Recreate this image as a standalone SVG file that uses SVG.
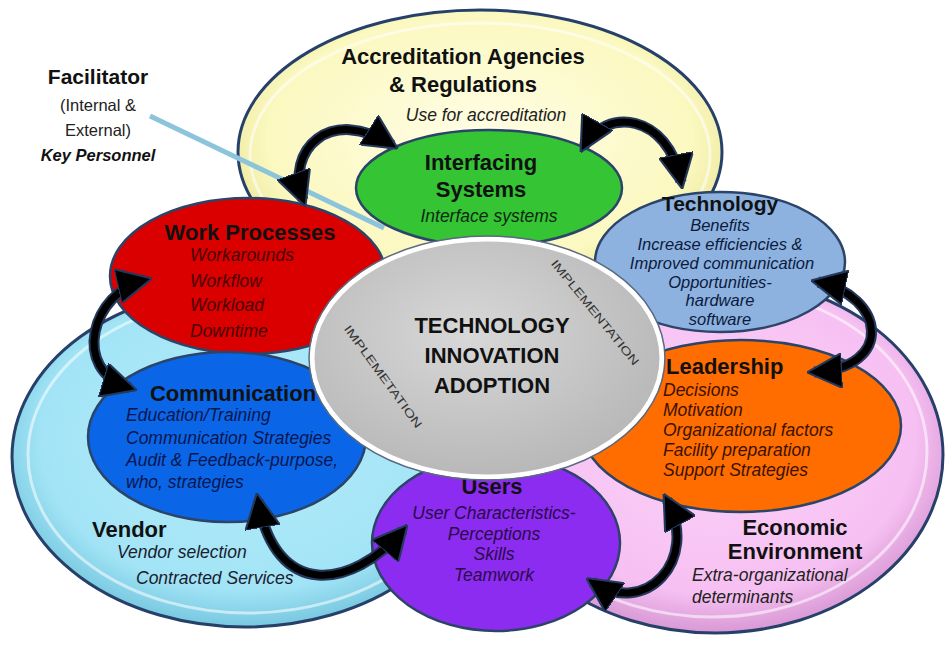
<svg xmlns="http://www.w3.org/2000/svg" width="948" height="645" viewBox="0 0 948 645">
<defs>
<radialGradient id="gY" cx="50%" cy="45%" r="55%"><stop offset="0" stop-color="#fffee6"/><stop offset="0.8" stop-color="#fbf8c0"/><stop offset="1" stop-color="#ece79a"/></radialGradient>
<radialGradient id="gB" cx="50%" cy="45%" r="55%"><stop offset="0" stop-color="#b4ecfa"/><stop offset="0.8" stop-color="#a2e4f6"/><stop offset="1" stop-color="#78c8e0"/></radialGradient>
<radialGradient id="gP" cx="50%" cy="45%" r="55%"><stop offset="0" stop-color="#fcd2f8"/><stop offset="0.8" stop-color="#f6c0f2"/><stop offset="1" stop-color="#d898d4"/></radialGradient>
<radialGradient id="gG" cx="45%" cy="40%" r="60%"><stop offset="0" stop-color="#d8d8d8"/><stop offset="1" stop-color="#b8b8b8"/></radialGradient>
<marker id="ah" viewBox="0 0 10 10" refX="8" refY="5" markerWidth="5" markerHeight="5" orient="auto-start-reverse" markerUnits="strokeWidth">
<path d="M0 0 L10 5 L0 10 z" fill="#000" stroke="#24385c" stroke-width="0.6"/>
</marker>
<style>
.outer{stroke:#26406a;stroke-width:3}
.ring{fill:none;stroke:#ffffff;stroke-opacity:0.55;stroke-width:3}
.node{stroke:#2c4468;stroke-width:2.5}
.t{font-family:"Liberation Sans",Arial,sans-serif;font-weight:bold;font-size:22px;fill:#111}
.i{font-family:"Liberation Sans",Arial,sans-serif;font-style:italic;font-size:17.5px}
.ts{font-size:16.5px}
.impl{font-family:"Liberation Sans",Arial,sans-serif;font-size:11.5px;fill:#333}
.c{text-anchor:middle}
.arrOut{fill:none;stroke:#24385c;stroke-width:11;stroke-linecap:butt}
.arr{fill:none;stroke:#000;stroke-width:7}
</style>
</defs>

<g id="accreditation">
<ellipse cx="480" cy="152" rx="242" ry="142" fill="url(#gY)" class="outer"/>
<ellipse cx="480" cy="155" rx="230" ry="132" class="ring"/>
<text class="t c" x="463" y="64">Accreditation Agencies</text>
<text class="t c" x="463" y="92">&amp; Regulations</text>
<text class="i c" x="486" y="121" fill="#222">Use for accreditation</text>
</g>

<g id="vendor">
<ellipse cx="245" cy="457" rx="233" ry="170" fill="url(#gB)" class="outer"/>
<ellipse cx="248" cy="455" rx="220" ry="158" class="ring"/>
<text class="t" x="92" y="537">Vendor</text>
<text class="i" x="117" y="558" fill="#1a2030">Vendor selection</text>
<text class="i" x="136" y="584" fill="#1a2030">Contracted Services</text>
</g>

<g id="economic">
<ellipse cx="715" cy="455" rx="228" ry="178" fill="url(#gP)" class="outer"/>
<ellipse cx="712" cy="452" rx="215" ry="165" class="ring"/>
<text class="t c" x="795" y="535">Economic</text>
<text class="t c" x="795" y="559">Environment</text>
<text class="i" x="692" y="581" fill="#222">Extra-organizational</text>
<text class="i" x="692" y="603" fill="#222">determinants</text>
</g>

<g id="facilitator">
<text class="t c" x="98" y="84" style="font-size:21px">Facilitator</text>
<text class="c" x="98" y="111" style="font-family:'Liberation Sans',Arial,sans-serif;font-size:16.5px" fill="#222">(Internal &amp;</text>
<text class="c" x="98" y="136" style="font-family:'Liberation Sans',Arial,sans-serif;font-size:16.5px" fill="#222">External)</text>
<text class="t c" x="98" y="161" style="font-size:16.5px;font-style:italic">Key Personnel</text>
<line x1="150" y1="116" x2="384" y2="228" stroke="#8cc4dc" stroke-width="5"/>
</g>

<g id="interfacing">
<ellipse cx="489" cy="188" rx="133" ry="58" fill="#34c434" class="node"/>
<text class="t c" x="481" y="170">Interfacing</text>
<text class="t c" x="481" y="197">Systems</text>
<text class="i c" x="489" y="222" fill="#0e2a10">Interface systems</text>
</g>

<g id="technology">
<ellipse cx="720" cy="262" rx="125" ry="70" fill="#8db2e0" class="node"/>
<text class="t c" x="720" y="211" style="font-size:21px">Technology</text>
<text class="i ts c" x="720" y="231" fill="#0c1a3c">Benefits</text>
<text class="i ts c" x="720" y="250" fill="#0c1a3c">Increase efficiencies &amp;</text>
<text class="i ts c" x="722" y="269" fill="#0c1a3c">Improved communication</text>
<text class="i ts c" x="720" y="288" fill="#0c1a3c">Opportunities-</text>
<text class="i ts c" x="720" y="306" fill="#0c1a3c">hardware</text>
<text class="i ts c" x="720" y="325" fill="#0c1a3c">software</text>
</g>

<g id="work-processes">
<ellipse cx="248" cy="276" rx="138" ry="78" fill="#da0000" class="node"/>
<text class="t c" x="250" y="240">Work Processes</text>
<text class="i" x="190" y="261" fill="#4a0000">Workarounds</text>
<text class="i" x="190" y="287" fill="#4a0000">Workflow</text>
<text class="i" x="190" y="311" fill="#4a0000">Workload</text>
<text class="i" x="190" y="337" fill="#4a0000">Downtime</text>
</g>

<g id="communication">
<ellipse cx="227" cy="437" rx="139" ry="85" fill="#0a66e6" class="node"/>
<text class="t c" x="233" y="401">Communication</text>
<text class="i" x="126" y="421" fill="#0a1650">Education/Training</text>
<text class="i" x="126" y="444" fill="#0a1650">Communication Strategies</text>
<text class="i" x="126" y="466" fill="#0a1650">Audit &amp; Feedback-purpose,</text>
<text class="i" x="126" y="488" fill="#0a1650">who, strategies</text>
</g>

<g id="leadership">
<ellipse cx="741" cy="426" rx="160" ry="86" fill="#ff6c00" class="node"/>
<text class="t" x="666" y="374">Leadership</text>
<text class="i" x="663" y="396" fill="#3a1200">Decisions</text>
<text class="i" x="663" y="416" fill="#3a1200">Motivation</text>
<text class="i" x="663" y="436" fill="#3a1200">Organizational factors</text>
<text class="i" x="663" y="456" fill="#3a1200">Facility preparation</text>
<text class="i" x="663" y="476" fill="#3a1200">Support Strategies</text>
</g>

<g id="users">
<ellipse cx="496" cy="543" rx="124" ry="88" fill="#8c2cf0" class="node"/>
<text class="t c" x="492" y="494">Users</text>
<text class="i c" x="494" y="519" fill="#2a0a4a">User Characteristics-</text>
<text class="i c" x="494" y="540" fill="#2a0a4a">Perceptions</text>
<text class="i c" x="494" y="560" fill="#2a0a4a">Skills</text>
<text class="i c" x="494" y="581" fill="#2a0a4a">Teamwork</text>
</g>

<g id="center">
<ellipse cx="487" cy="358" rx="175" ry="119" fill="url(#gG)" stroke="#ffffff" stroke-width="5"/>
<ellipse cx="487" cy="358" rx="178" ry="122" fill="none" stroke="#5a6a80" stroke-width="1.5"/>
<text class="t c" x="492" y="333">TECHNOLOGY</text>
<text class="t c" x="492" y="363">INNOVATION</text>
<text class="t c" x="492" y="393">ADOPTION</text>
<text class="impl c" transform="translate(592 315) rotate(51)" textLength="132" lengthAdjust="spacingAndGlyphs">IMPLEMENTATION</text>
<text class="impl c" transform="translate(380 379) rotate(54)" textLength="124" lengthAdjust="spacingAndGlyphs">IMPLEMETATION</text>
</g>

<g id="connectors">
<path class="arrOut" d="M303 200 C285 150,330 105,392 145"/>
<path class="arr" d="M303 200 C285 150,330 105,392 145" marker-start="url(#ah)" marker-end="url(#ah)"/>
<path class="arrOut" d="M584 146 C605 108,668 112,681 182"/>
<path class="arr" d="M584 146 C605 108,668 112,681 182" marker-start="url(#ah)" marker-end="url(#ah)"/>
<path class="arrOut" d="M145 280 C92 292,70 370,130 388"/>
<path class="arr" d="M145 280 C92 292,70 370,130 388" marker-start="url(#ah)" marker-end="url(#ah)"/>
<path class="arrOut" d="M818 282 C885 296,895 368,814 372"/>
<path class="arr" d="M818 282 C885 296,895 368,814 372" marker-start="url(#ah)" marker-end="url(#ah)"/>
<path class="arrOut" d="M258 500 C275 600,352 590,403 530"/>
<path class="arr" d="M258 500 C275 600,352 590,403 530" marker-start="url(#ah)" marker-end="url(#ah)"/>
<path class="arrOut" d="M592 582 C645 618,700 560,667 500"/>
<path class="arr" d="M592 582 C645 618,700 560,667 500" marker-start="url(#ah)" marker-end="url(#ah)"/>
</g>
</svg>
